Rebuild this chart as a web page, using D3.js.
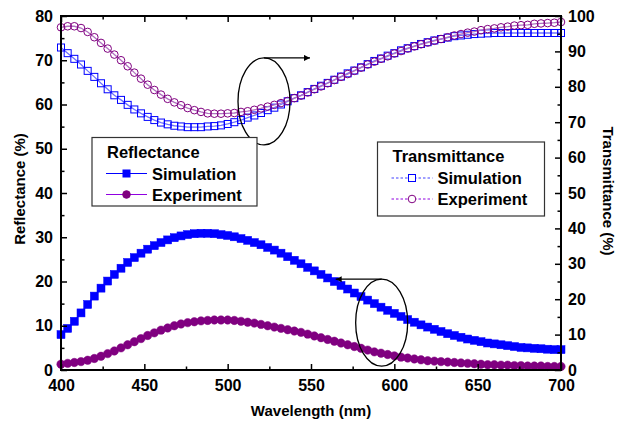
<!DOCTYPE html>
<html>
<head>
<meta charset="utf-8">
<script src="https://cdn.jsdelivr.net/npm/d3@7"></script>
<style>
  body { margin: 0; background: #fff; }
  svg text { font-family: "Liberation Sans", Arial, sans-serif; font-weight: bold; fill: #000; }
</style>
</head>
<body>
<svg id="chart" width="624" height="423"></svg>
<script>
// wavelength (nm)
var wavelength = [400, 404, 408, 412, 416, 420, 424, 428, 432, 436, 440, 444, 448, 452, 456, 460, 464, 468, 472, 476,
  480, 484, 488, 492, 496, 500, 504, 508, 512, 516, 520, 524, 528, 532, 536, 540, 544, 548, 552, 556,
  560, 564, 568, 572, 576, 580, 584, 588, 592, 596, 600, 604, 608, 612, 616, 620, 624, 628, 632, 636,
  640, 644, 648, 652, 656, 660, 664, 668, 672, 676, 680, 684, 688, 692, 696, 700];

// Reflectance (%) - left axis
var reflSim = [8.0, 9.4, 11.0, 12.9, 14.8, 16.7, 18.5, 20.1, 21.6, 23.0, 24.3, 25.4, 26.4, 27.3, 28.1, 28.8, 29.4, 29.9, 30.3, 30.6,
  30.8, 30.9, 30.9, 30.8, 30.6, 30.4, 30.1, 29.7, 29.3, 28.8, 28.3, 27.7, 27.1, 26.4, 25.6, 24.8, 24.0, 23.2, 22.4, 21.6,
  20.8, 20.0, 19.1, 18.3, 17.4, 16.6, 15.8, 15.0, 14.2, 13.5, 12.8, 12.1, 11.4, 10.8, 10.2, 9.7, 9.2, 8.7, 8.2, 7.8,
  7.4, 7.0, 6.7, 6.4, 6.1, 5.9, 5.7, 5.5, 5.3, 5.1, 5.0, 4.9, 4.8, 4.7, 4.6, 4.6];
var reflExp = [1.3, 1.5, 1.7, 1.9, 2.2, 2.6, 3.1, 3.7, 4.3, 5.0, 5.7, 6.4, 7.1, 7.8, 8.4, 9.0, 9.5, 10.0, 10.4, 10.7,
  10.9, 11.1, 11.2, 11.3, 11.3, 11.3, 11.2, 11.0, 10.8, 10.6, 10.3, 10.0, 9.7, 9.4, 9.1, 8.8, 8.5, 8.1, 7.7, 7.3,
  6.9, 6.5, 6.1, 5.7, 5.3, 4.9, 4.5, 4.1, 3.8, 3.5, 3.2, 2.9, 2.7, 2.5, 2.3, 2.1, 2.0, 1.9, 1.8, 1.7,
  1.6, 1.5, 1.4, 1.3, 1.2, 1.2, 1.1, 1.1, 1.0, 1.0, 0.9, 0.9, 0.9, 0.8, 0.8, 0.8];

// Transmittance (%) - right axis
var transSim = [91.1, 89.5, 87.9, 86.3, 84.5, 82.8, 81.0, 79.3, 77.6, 76.3, 74.9, 73.6, 72.5, 71.5, 70.6, 69.9, 69.4, 69.0, 68.8, 68.6,
  68.6, 68.6, 68.8, 68.9, 69.1, 69.5, 70.0, 70.6, 71.3, 71.9, 72.6, 73.4, 74.1, 75.0, 75.9, 76.8, 77.6, 78.5, 79.4, 80.3,
  81.1, 82.0, 82.9, 83.8, 84.6, 85.5, 86.4, 87.3, 88.0, 88.8, 89.5, 90.3, 90.9, 91.5, 92.1, 92.6, 93.1, 93.5, 93.9, 94.3,
  94.5, 94.7, 94.9, 95.0, 95.1, 95.2, 95.2, 95.2, 95.2, 95.2, 95.2, 95.2, 95.2, 95.2, 95.2, 95.2];
var transExp = [96.8, 97.1, 97.1, 96.6, 95.5, 94.0, 92.4, 90.8, 89.1, 87.5, 85.8, 84.0, 82.3, 80.6, 79.1, 77.8, 76.6, 75.6, 74.8, 74.0,
  73.4, 72.9, 72.5, 72.4, 72.4, 72.5, 72.6, 72.9, 73.1, 73.5, 73.9, 74.4, 74.9, 75.4, 76.0, 76.8, 77.5, 78.4, 79.3, 80.1,
  81.0, 81.9, 82.8, 83.6, 84.5, 85.4, 86.3, 87.1, 87.9, 88.6, 89.4, 90.1, 90.8, 91.4, 92.0, 92.5, 93.0, 93.5, 94.0, 94.5,
  94.9, 95.3, 95.6, 96.0, 96.3, 96.5, 96.8, 97.0, 97.3, 97.4, 97.5, 97.8, 97.9, 98.0, 98.1, 98.3];

// ticks
var xTicks = [400, 450, 500, 550, 600, 650, 700];
var xMinor = [425, 475, 525, 575, 625, 675];
var yLeftTicks = [0, 10, 20, 30, 40, 50, 60, 70, 80];
var yLeftMinor = [5, 15, 25, 35, 45, 55, 65, 75];
var yRightTicks = [0, 10, 20, 30, 40, 50, 60, 70, 80, 90, 100];
var yRightMinor = [5, 15, 25, 35, 45, 55, 65, 75, 85, 95];

var svg = d3.select("#chart");
var pLeft = 61, pRight = 561, pTop = 16, pBottom = 370;
var blue = "#0000ff", purple = "#800080";

var x = d3.scaleLinear().domain([400, 700]).range([pLeft, pRight]);
var yL = d3.scaleLinear().domain([0, 80]).range([pBottom, pTop]);
var yR = d3.scaleLinear().domain([0, 100]).range([pBottom, pTop]);

function pts(vals) {
  return wavelength.map(function(w, i) { return [w, vals[i]]; });
}

//数据曲线
function drawSeries(vals, scaleY, shape, filled, color, lineColor) {
  var g = svg.append("g");
  var line = d3.line()
    .x(function(d) { return x(d[0]); })
    .y(function(d) { return scaleY(d[1]); });
  g.append("path")
    .attr("d", line(pts(vals)))
    .attr("fill", "none")
    .attr("stroke", lineColor)
    .attr("stroke-width", 1.3);
  if (shape === "square") {
    var s = filled ? 8 : 7;
    g.selectAll("rect").data(pts(vals)).enter().append("rect")
      .attr("x", function(d) { return x(d[0]) - s / 2; })
      .attr("y", function(d) { return scaleY(d[1]) - s / 2; })
      .attr("width", s)
      .attr("height", s)
      .attr("fill", filled ? color : "none")
      .attr("stroke", color)
      .attr("stroke-width", filled ? 0.5 : 1);
  } else {
    g.selectAll("circle").data(pts(vals)).enter().append("circle")
      .attr("cx", function(d) { return x(d[0]); })
      .attr("cy", function(d) { return scaleY(d[1]); })
      .attr("r", filled ? 4.2 : 3.8)
      .attr("fill", filled ? color : "none")
      .attr("stroke", color)
      .attr("stroke-width", filled ? 0.5 : 1);
  }
}

drawSeries(transSim, yR, "square", false, blue, "#7070ff");
drawSeries(transExp, yR, "circle", false, purple, "#b070c0");
drawSeries(reflSim, yL, "square", true, blue, blue);
drawSeries(reflExp, yL, "circle", true, purple, purple);

//坐标轴
function styleAxis(g) {
  g.select(".domain").remove();
  g.selectAll("line").attr("stroke", "#000").attr("stroke-width", 1.5);
  g.selectAll("text").style("font-size", "16px").attr("fill", "#000");
}

svg.append("g").attr("transform", "translate(0," + pBottom + ")")
  .call(d3.axisBottom(x).tickValues(xTicks).tickSize(-6).tickPadding(10).tickFormat(d3.format("d")))
  .call(styleAxis);
svg.append("g").attr("transform", "translate(0," + pBottom + ")")
  .call(d3.axisBottom(x).tickValues(xMinor).tickSize(-3.5).tickFormat(""))
  .call(styleAxis);
svg.append("g").attr("transform", "translate(0," + pTop + ")")
  .call(d3.axisTop(x).tickValues(xTicks).tickSize(-6).tickFormat(""))
  .call(styleAxis);
svg.append("g").attr("transform", "translate(0," + pTop + ")")
  .call(d3.axisTop(x).tickValues(xMinor).tickSize(-3.5).tickFormat(""))
  .call(styleAxis);
svg.append("g").attr("transform", "translate(" + pLeft + ",0)")
  .call(d3.axisLeft(yL).tickValues(yLeftTicks).tickSize(-6).tickPadding(8))
  .call(styleAxis);
svg.append("g").attr("transform", "translate(" + pLeft + ",0)")
  .call(d3.axisLeft(yL).tickValues(yLeftMinor).tickSize(-3.5).tickFormat(""))
  .call(styleAxis);
svg.append("g").attr("transform", "translate(" + pRight + ",0)")
  .call(d3.axisRight(yR).tickValues(yRightTicks).tickSize(-6).tickPadding(7))
  .call(styleAxis);
svg.append("g").attr("transform", "translate(" + pRight + ",0)")
  .call(d3.axisRight(yR).tickValues(yRightMinor).tickSize(-3.5).tickFormat(""))
  .call(styleAxis);

// frame
svg.append("rect")
  .attr("x", pLeft).attr("y", pTop)
  .attr("width", pRight - pLeft).attr("height", pBottom - pTop)
  .attr("fill", "none").attr("stroke", "#000").attr("stroke-width", 2);

// axis titles
svg.append("text")
  .attr("x", (pLeft + pRight) / 2).attr("y", 416)
  .attr("text-anchor", "middle").style("font-size", "15px")
  .text("Wavelength (nm)");
svg.append("text")
  .attr("transform", "translate(25," + ((pTop + pBottom) / 2 - 4) + ") rotate(-90)")
  .attr("text-anchor", "middle").style("font-size", "15px")
  .text("Reflectance (%)");
svg.append("text")
  .attr("transform", "translate(603," + ((pTop + pBottom) / 2 - 2) + ") rotate(90)")
  .attr("text-anchor", "middle").style("font-size", "15px")
  .text("Transmittance (%)");

//标注椭圆和箭头
var defs = svg.append("defs");
defs.append("marker")
  .attr("id", "arrow")
  .attr("viewBox", "0 0 10 10")
  .attr("refX", 10).attr("refY", 5)
  .attr("markerWidth", 10).attr("markerHeight", 6)
  .attr("markerUnits", "userSpaceOnUse")
  .attr("orient", "auto")
  .append("path").attr("d", "M0,0L10,5L0,10Z").attr("fill", "#000");

function annotate(nm, val, dir) {
  var cx = x(nm), cy = yL(val), rx = 26, ry = 43.5;
  svg.append("ellipse")
    .attr("cx", cx).attr("cy", cy).attr("rx", rx).attr("ry", ry)
    .attr("fill", "none").attr("stroke", "#000").attr("stroke-width", 1.3);
  svg.append("line")
    .attr("x1", cx).attr("y1", cy - ry)
    .attr("x2", cx + dir * 46).attr("y2", cy - ry)
    .attr("stroke", "#000").attr("stroke-width", 1.3)
    .attr("marker-end", "url(#arrow)");
}
annotate(521.8, 60.7, 1);
annotate(592.4, 10.7, -1);

//图例
function legend(bx, by, bw, bh, title, items) {
  var g = svg.append("g");
  g.append("rect")
    .attr("x", bx).attr("y", by).attr("width", bw).attr("height", bh)
    .attr("fill", "#fff").attr("stroke", "#333").attr("stroke-width", 1.2);
  g.append("text")
    .attr("x", bx + 15).attr("y", by + 20)
    .style("font-size", "16.5px")
    .text(title);
  items.forEach(function(it, i) {
    var yy = by + 36 + i * 21;
    g.append("line")
      .attr("x1", bx + 14).attr("x2", bx + 55)
      .attr("y1", yy).attr("y2", yy)
      .attr("stroke", it.line).attr("stroke-width", 1)
      .attr("stroke-dasharray", it.dash ? "2.5,2" : null);
    var mx = bx + 34.5;
    if (it.shape === "square") {
      g.append("rect")
        .attr("x", mx - 3.5).attr("y", yy - 3.5).attr("width", 7).attr("height", 7)
        .attr("fill", it.filled ? it.color : "#fff").attr("stroke", it.color).attr("stroke-width", 1);
    } else {
      g.append("circle")
        .attr("cx", mx).attr("cy", yy).attr("r", 3.8)
        .attr("fill", it.filled ? it.color : "#fff").attr("stroke", it.color).attr("stroke-width", 1);
    }
    g.append("text")
      .attr("x", bx + 60).attr("y", yy + 6)
      .style("font-size", "16.5px")
      .text(it.label);
  });
}
legend(92, 137.5, 165, 68.5, "Reflectance", [
  { label: "Simulation", shape: "square", filled: true, color: blue, line: blue },
  { label: "Experiment", shape: "circle", filled: true, color: purple, line: "#9000e0" }
]);
legend(377.5, 142, 167, 74, "Transmittance", [
  { label: "Simulation", shape: "square", filled: false, color: blue, line: "#4040ff", dash: true },
  { label: "Experiment", shape: "circle", filled: false, color: purple, line: "#9000e0", dash: true }
]);
</script>
</body>
</html>
